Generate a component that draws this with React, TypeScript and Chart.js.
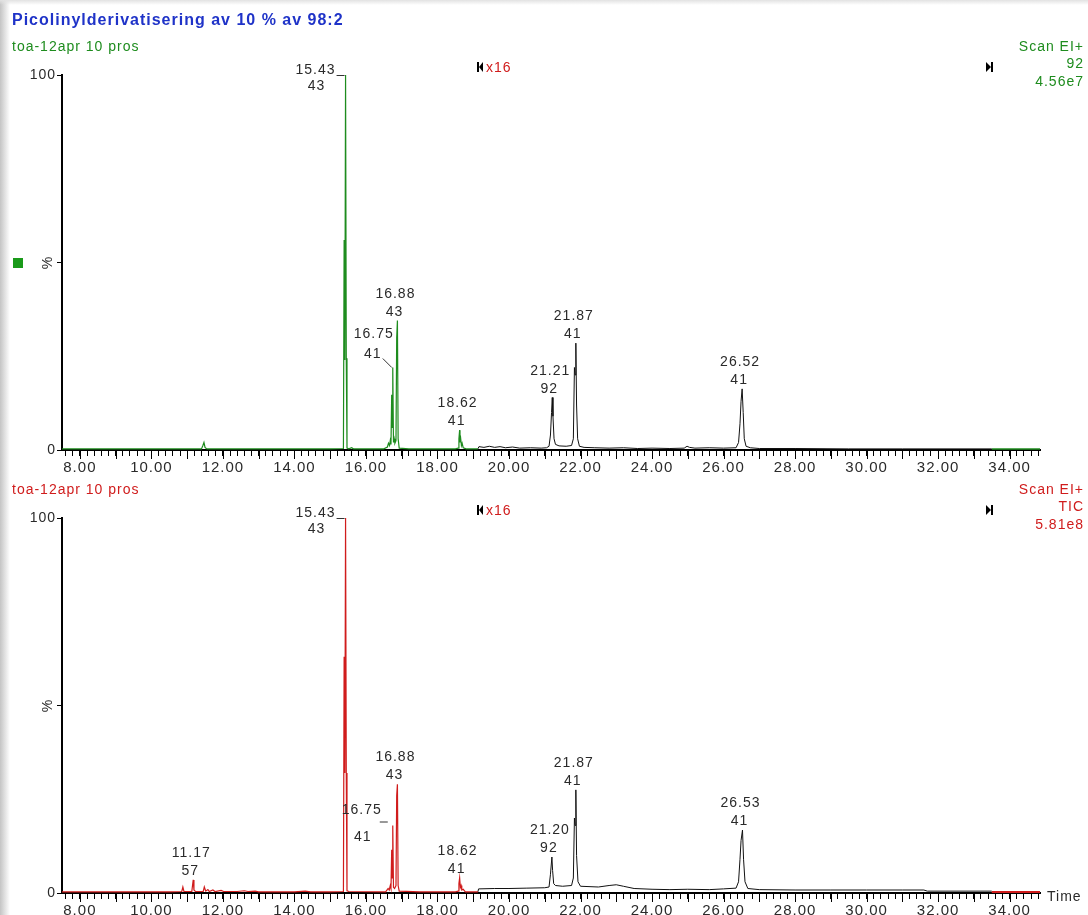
import { useEffect, useRef } from "react";
import { Chart, registerables } from "chart.js";
Chart.register(...registerables);

// ---- time axis ----
const timeMin = 7.5;
const timeMax = 34.85;
const magnifyStart = 19.13;
const magnifyEnd = 33.5;
const magnifyLabel = "x16";

// ---- top panel (Scan EI+, m/z 92) ----
const topGreenT = [7.5, 9.2, 10.8, 11.4, 11.44, 11.47, 11.5, 11.55, 13.0, 15.0, 15.37, 15.39, 15.41, 15.43, 15.45, 15.47, 15.52, 15.6, 15.65, 16.5, 16.6, 16.63, 16.66, 16.68, 16.7, 16.72, 16.73, 16.75, 16.77, 16.79, 16.81, 16.84, 16.86, 16.88, 16.9, 16.93, 17.2, 18.5, 18.58, 18.6, 18.62, 18.63, 18.65, 18.67, 18.69, 18.72, 18.8, 19.13];
const topGreenV = [0.3, 0.3, 0.3, 0.3, 1.2, 2.0, 0.7, 0.3, 0.3, 0.3, 0.4, 56, 24, 100, 24.5, 0.5, 0.3, 0.6, 0.3, 0.3, 0.8, 1.8, 1.2, 2.5, 1.5, 14.7, 6, 22, 2, 3, 1.8, 2.5, 30, 34.5, 3, 0.5, 0.3, 0.3, 0.5, 3, 5.3, 2, 3, 1.2, 1.8, 0.6, 0.3, 0.3];
const topBlackT = [19.13, 19.16, 19.3, 19.45, 19.6, 19.75, 19.9, 20.1, 20.3, 20.6, 20.9, 21.05, 21.12, 21.16, 21.19, 21.21, 21.23, 21.26, 21.3, 21.4, 21.6, 21.75, 21.8, 21.83, 21.85, 21.87, 21.89, 21.92, 21.97, 22.1, 22.4, 22.8, 23.2, 23.6, 24.0, 24.5, 24.9, 24.98, 25.05, 25.2, 25.6, 26.0, 26.35, 26.42, 26.46, 26.49, 26.52, 26.55, 26.58, 26.63, 26.75, 27.0, 28.0, 29.5, 31.0, 33.5];
const topBlackV = [0.3, 0.9, 0.7, 1.0, 0.7, 0.9, 0.6, 0.8, 0.5, 0.6, 0.5, 0.6, 1.0, 4, 10, 14, 9, 3, 1.5, 1.1, 1.0, 1.2, 3, 22, 20, 28.5, 12, 3, 1, 0.7, 0.6, 0.5, 0.6, 0.4, 0.5, 0.4, 0.5, 1.0, 0.7, 0.5, 0.6, 0.5, 0.6, 2, 7, 13, 16.3, 10, 3, 1, 0.6, 0.4, 0.4, 0.3, 0.3, 0.3];
const topTailT = [33.5, 34.85];
const topTailV = [0.3, 0.3];
const topPeakTimes = ["15.43", "16.75", "16.88", "18.62", "21.21", "21.87", "26.52"];
const topPeakHeights = [100, 22, 34.5, 5.3, 14, 28.5, 16.3];
const topPeakMz = ["43", "41", "43", "41", "92", "41", "41"];
const topHeader = ["Scan EI+", "92", "4.56e7"];

// ---- bottom panel (Scan EI+, TIC) ----
const botRedT = [7.5, 9.0, 10.5, 10.85, 10.88, 10.91, 11.13, 11.15, 11.17, 11.19, 11.23, 11.45, 11.48, 11.52, 11.58, 11.62, 11.72, 11.78, 11.95, 12.02, 12.4, 12.6, 12.7, 12.9, 13.0, 14.0, 14.3, 14.45, 15.0, 15.37, 15.39, 15.41, 15.43, 15.45, 15.47, 15.52, 16.55, 16.62, 16.65, 16.68, 16.7, 16.72, 16.73, 16.75, 16.77, 16.8, 16.84, 16.86, 16.88, 16.9, 16.93, 17.5, 18.5, 18.58, 18.6, 18.62, 18.64, 18.66, 18.68, 18.72, 18.78, 19.13];
const botRedV = [0.3, 0.3, 0.3, 0.4, 1.6, 0.4, 0.4, 2, 3.5, 0.8, 0.4, 0.4, 1.6, 0.5, 0.9, 0.4, 0.8, 0.4, 0.7, 0.4, 0.4, 0.6, 0.4, 0.5, 0.3, 0.3, 0.5, 0.3, 0.3, 0.4, 63, 32, 100, 32, 0.6, 0.4, 0.3, 1.2, 0.8, 2, 1.2, 11.5, 4, 18, 1.5, 1.2, 2, 26, 29, 2, 0.5, 0.3, 0.3, 0.5, 2.5, 4, 1.5, 2, 0.8, 1, 0.3, 0.3];
const botBlackT = [19.13, 19.15, 19.6, 20.0, 20.5, 21.0, 21.12, 21.16, 21.2, 21.22, 21.25, 21.3, 21.5, 21.75, 21.8, 21.83, 21.85, 21.87, 21.89, 21.93, 22.0, 22.5, 22.8, 23.0, 23.2, 23.5, 24.0, 24.5, 25.0, 25.6, 26.0, 26.35, 26.42, 26.46, 26.49, 26.53, 26.56, 26.6, 26.68, 27.0, 28.0, 29.0, 30.0, 31.0, 31.6, 31.7, 33.5];
const botBlackV = [0.3, 1.1, 1.2, 1.2, 1.3, 1.4, 1.6, 5, 9.6, 6, 2.5, 2, 1.8, 2, 4, 20, 18, 27.5, 10, 3, 1.8, 1.6, 2, 2.2, 1.8, 1.2, 1.0, 0.9, 1.0, 0.9, 1.1, 1.3, 3, 9, 14, 16.8, 9, 3, 1.2, 0.9, 0.8, 0.8, 0.8, 0.8, 0.8, 0.5, 0.5];
const botTailT = [33.5, 34.85];
const botTailV = [0.3, 0.3];
const botPeakTimes = ["11.17", "15.43", "16.75", "16.88", "18.62", "21.20", "21.87", "26.53"];
const botPeakHeights = [3.5, 100, 18, 29, 4, 9.6, 27.5, 16.8];
const botPeakMz = ["57", "43", "41", "43", "41", "92", "41", "41"];
const botHeader = ["Scan EI+", "TIC", "5.81e8"];

// label placement kinds (layout, not data)
const topPeakKinds = ["side", "leader", "above", "above", "above", "above", "above"];
const botPeakKinds = ["above", "side", "sideDash", "above", "above", "above", "above", "above"];

const FONT = '"Liberation Sans", Arial, sans-serif';
const GREEN = "#1e8c1e";
const RED = "#d01c1c";
const BLACK = "#111111";
const TEXT = "#2a2a2a";

function pts(t: number[], v: number[]) {
  return t.map((x, i) => ({ x, y: v[i] }));
}

function txt(ctx: CanvasRenderingContext2D, s: string, x: number, y: number, color: string, align: CanvasTextAlign = "left", font = `14px ${FONT}`) {
  ctx.font = font;
  ctx.fillStyle = color;
  ctx.textAlign = align;
  ctx.textBaseline = "alphabetic";
  ctx.fillText(s, x, y);
}

type Panel = {
  top: number;
  height: number;
  padTop: number;
  axisH: number;
  color: string;
  segs: { t: number[]; v: number[]; c: string; w: number }[];
  peakT: string[];
  peakH: number[];
  peakMz: string[];
  kinds: string[];
  header: string[];
  first: boolean;
};

function makeChart(canvas: HTMLCanvasElement, p: Panel) {
  const spacing = {
    id: "spacing",
    beforeDraw(chart: any) {
      (chart.ctx as any).letterSpacing = "1px";
    },
  };
  const overlay = {
    id: "overlay",
    afterDraw(chart: any) {
      const ctx: CanvasRenderingContext2D = chart.ctx;
      const xs = chart.scales.x;
      const ys = chart.scales.y;
      const area = chart.chartArea;
      ctx.save();
      (ctx as any).letterSpacing = "1px";
      // longer ticks every whole minute
      ctx.strokeStyle = "#000";
      ctx.lineWidth = 1;
      for (let m = Math.ceil(timeMin); m <= timeMax; m++) {
        const px = Math.round(xs.getPixelForValue(m)) + 0.5;
        ctx.beginPath();
        ctx.moveTo(px, area.bottom);
        ctx.lineTo(px, area.bottom + 9);
        ctx.stroke();
      }
      // % label
      ctx.save();
      ctx.translate(48, ys.getPixelForValue(50));
      ctx.rotate(-Math.PI / 2);
      ctx.font = `14px ${FONT}`;
      ctx.fillStyle = TEXT;
      ctx.textAlign = "center";
      ctx.textBaseline = "middle";
      ctx.fillText("%", 0, 0);
      ctx.restore();

      // headers
      const yTop = area.top;
      if (p.first) {
        txt(ctx, "Picolinylderivatisering av 10 % av 98:2", 12, 25, "#1f33c8", "left", `bold 16px ${FONT}`);
        txt(ctx, "toa-12apr 10 pros", 12, yTop - 24, p.color);
        ctx.fillStyle = "#1a9a1a";
        ctx.fillRect(13, Math.round(ys.getPixelForValue(50)) - 5, 10, 10);
      } else {
        txt(ctx, "toa-12apr 10 pros", 12, yTop - 24, p.color);
        txt(ctx, "Time", 1047, area.bottom + 8, TEXT);
      }
      txt(ctx, p.header[0], 1084, yTop - 24, p.color, "right");
      txt(ctx, p.header[1], 1084, yTop - 7, p.color, "right");
      txt(ctx, p.header[2], 1084, yTop + 11, p.color, "right");

      // magnification markers
      const mx = Math.round(xs.getPixelForValue(magnifyStart));
      const my = yTop - 8;
      ctx.fillStyle = "#000";
      ctx.fillRect(mx - 1, my - 5, 2, 10);
      ctx.beginPath();
      ctx.moveTo(mx + 5, my - 5);
      ctx.lineTo(mx + 5, my + 5);
      ctx.lineTo(mx + 1, my);
      ctx.closePath();
      ctx.fill();
      txt(ctx, magnifyLabel, mx + 8, my + 5, RED);
      const ex = Math.round(xs.getPixelForValue(magnifyEnd)) - 2;
      ctx.fillStyle = "#000";
      ctx.fillRect(ex + 1, my - 5, 2, 10);
      ctx.beginPath();
      ctx.moveTo(ex - 4, my - 5);
      ctx.lineTo(ex - 4, my + 5);
      ctx.lineTo(ex + 1, my);
      ctx.closePath();
      ctx.fill();

      // peak labels
      ctx.strokeStyle = "#333";
      ctx.lineWidth = 1;
      p.peakT.forEach((ts, i) => {
        const px = xs.getPixelForValue(Number(ts));
        const py = ys.getPixelForValue(p.peakH[i]);
        const k = p.kinds[i];
        if (k === "side") {
          txt(ctx, ts, px - 10, py - 1, TEXT, "right");
          ctx.beginPath();
          ctx.moveTo(px - 9, py + 0.5);
          ctx.lineTo(px - 1, py + 0.5);
          ctx.stroke();
          txt(ctx, p.peakMz[i], px - 29, py + 15, TEXT, "center");
        } else if (k === "leader") {
          txt(ctx, ts, px - 19, py - 30, TEXT, "center");
          txt(ctx, p.peakMz[i], px - 20, py - 10, TEXT, "center");
          ctx.beginPath();
          ctx.moveTo(px - 10, py - 9);
          ctx.lineTo(px - 1, py);
          ctx.stroke();
        } else if (k === "sideDash") {
          txt(ctx, ts, px - 31, py - 12, TEXT, "center");
          ctx.beginPath();
          ctx.moveTo(px - 13, py - 3.5);
          ctx.lineTo(px - 5, py - 3.5);
          ctx.stroke();
          txt(ctx, p.peakMz[i], px - 30, py + 15, TEXT, "center");
        } else {
          txt(ctx, ts, px - 2, py - 23, TEXT, "center");
          txt(ctx, p.peakMz[i], px - 3, py - 5, TEXT, "center");
        }
      });
      ctx.restore();
    },
  };

  return new Chart(canvas, {
    type: "line",
    data: {
      datasets: p.segs.map((s) => ({
        data: pts(s.t, s.v),
        borderColor: s.c,
        borderWidth: s.w,
        pointRadius: 0,
        tension: 0,
        fill: false,
      })),
    },
    options: {
      responsive: false,
      animation: false,
      events: [],
      layout: { padding: { top: p.padTop, right: 48, left: 0, bottom: 0 } },
      plugins: { legend: { display: false }, tooltip: { enabled: false } },
      scales: {
        x: {
          type: "linear",
          min: timeMin,
          max: timeMax,
          afterFit: (s: any) => {
            s.height = p.axisH;
          },
          border: { color: "#000", width: 2 },
          grid: { drawOnChartArea: false, drawTicks: true, tickLength: 6, color: "#000", tickColor: "#000" },
          ticks: {
            stepSize: 0.2,
            autoSkip: false,
            maxRotation: 0,
            minRotation: 0,
            includeBounds: false,
            padding: 3,
            color: TEXT,
            font: { family: FONT, size: 15 },
            callback: (v: any) => {
              const n = Number(v);
              return Math.abs(n / 2 - Math.round(n / 2)) < 1e-6 ? n.toFixed(2) : "";
            },
          },
        },
        y: {
          type: "linear",
          min: 0,
          max: 100,
          afterFit: (s: any) => {
            s.width = 62;
          },
          border: { color: "#000", width: 2 },
          grid: { drawOnChartArea: false, drawTicks: true, tickLength: 5, color: "#000", tickColor: "#000" },
          ticks: {
            stepSize: 50,
            padding: 1,
            color: TEXT,
            font: { family: FONT, size: 14 },
            callback: (v: any) => (Number(v) === 100 ? "100" : Number(v) === 0 ? "0" : ""),
          },
        },
      },
    },
    plugins: [spacing, overlay],
  } as any);
}

const topPanel: Panel = {
  top: 0,
  height: 475,
  padTop: 75,
  axisH: 25,
  color: GREEN,
  segs: [
    { t: topGreenT, v: topGreenV, c: GREEN, w: 1.2 },
    { t: topBlackT, v: topBlackV, c: BLACK, w: 1 },
    { t: topTailT, v: topTailV, c: GREEN, w: 1.5 },
  ],
  peakT: topPeakTimes,
  peakH: topPeakHeights,
  peakMz: topPeakMz,
  kinds: topPeakKinds,
  header: topHeader,
  first: true,
};

const botPanel: Panel = {
  top: 475,
  height: 440,
  padTop: 43,
  axisH: 22,
  color: RED,
  segs: [
    { t: botRedT, v: botRedV, c: RED, w: 1.2 },
    { t: botBlackT, v: botBlackV, c: BLACK, w: 1 },
    { t: botTailT, v: botTailV, c: RED, w: 2 },
  ],
  peakT: botPeakTimes,
  peakH: botPeakHeights,
  peakMz: botPeakMz,
  kinds: botPeakKinds,
  header: botHeader,
  first: false,
};

export default function App() {
  const topRef = useRef<HTMLCanvasElement>(null);
  const botRef = useRef<HTMLCanvasElement>(null);
  useEffect(() => {
    const a = makeChart(topRef.current!, topPanel);
    const b = makeChart(botRef.current!, botPanel);
    return () => {
      a.destroy();
      b.destroy();
    };
  }, []);
  return (
    <div style={{ position: "absolute", left: 0, top: 0, width: 1088, height: 915, overflow: "hidden", background: "#fff" }}>
      <div style={{ position: "absolute", left: 0, top: 0, width: 10, height: 915, background: "linear-gradient(to right, #c4c4c4, #ffffff)" }} />
      <div style={{ position: "absolute", left: 0, top: 0, width: 1088, height: 5, background: "linear-gradient(to bottom, #e2e2e2, rgba(255,255,255,0))" }} />
      <canvas ref={topRef} width={1088} height={topPanel.height} style={{ position: "absolute", left: 0, top: topPanel.top }} />
      <canvas ref={botRef} width={1088} height={botPanel.height} style={{ position: "absolute", left: 0, top: botPanel.top }} />
    </div>
  );
}
